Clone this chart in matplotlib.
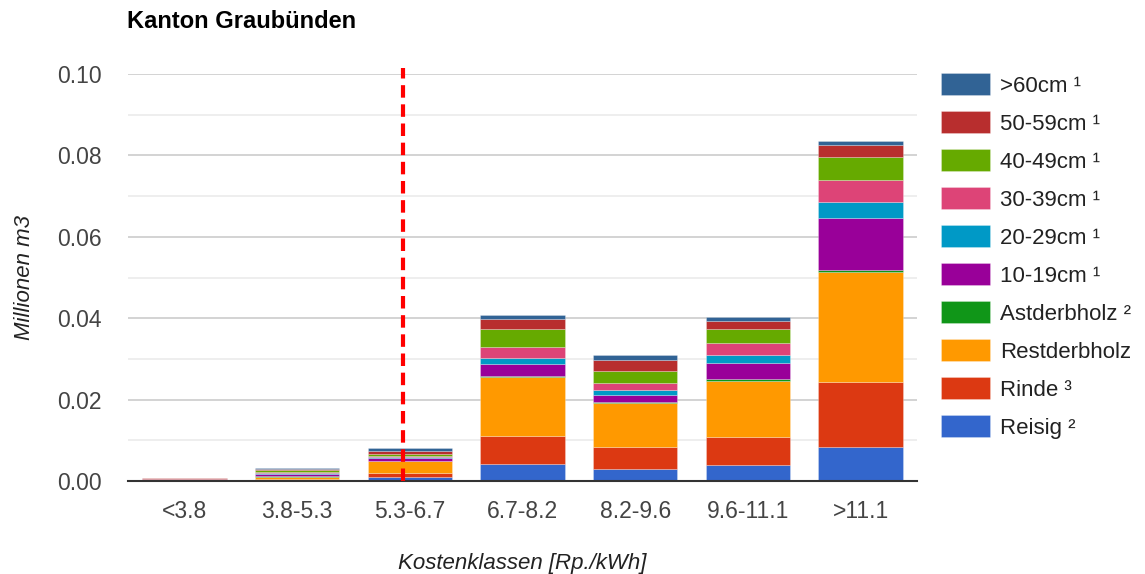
import matplotlib
matplotlib.use("Agg")
from matplotlib import pyplot as plt
import numpy as np

plt.rcParams['font.family'] = ['Liberation Sans', 'DejaVu Sans']

kategorien = ["<3.8", "3.8-5.3", "5.3-6.7", "6.7-8.2", "8.2-9.6", "9.6-11.1", ">11.1"]

# Millionen m3, von unten nach oben gestapelt
reisig = [0.00005, 0.0002, 0.0009, 0.0041, 0.0029, 0.0040, 0.0084]
rinde = [0.00006, 0.0002, 0.0011, 0.0069, 0.0055, 0.0069, 0.0159]
restderbholz = [0.00012, 0.0007, 0.0028, 0.0146, 0.0108, 0.0137, 0.0271]
astderbholz = [0.00002, 0.0001, 0.0001, 0.0003, 0.0003, 0.0004, 0.0005]
cm10_19 = [0.00012, 0.0005, 0.0007, 0.0028, 0.0016, 0.0040, 0.0126]
cm20_29 = [0.00003, 0.0002, 0.0002, 0.0014, 0.0012, 0.0019, 0.0040]
cm30_39 = [0.00006, 0.0004, 0.0003, 0.0029, 0.0017, 0.0030, 0.0054]
cm40_49 = [0.0001, 0.0004, 0.0005, 0.0044, 0.0031, 0.0035, 0.0058]
cm50_59 = [0.00008, 0.0003, 0.0008, 0.0025, 0.0026, 0.0019, 0.0029]
cm60 = [0.00006, 0.0003, 0.0006, 0.0008, 0.0012, 0.0009, 0.0010]

# Lage der roten Grenzlinie auf der Kategorien-Achse
grenze = 1.94

serien = [
    ("Reisig ²", reisig, "#3366cc"),
    ("Rinde ³", rinde, "#dc3912"),
    ("Restderbholz", restderbholz, "#ff9900"),
    ("Astderbholz ²", astderbholz, "#109618"),
    ("10-19cm ¹", cm10_19, "#990099"),
    ("20-29cm ¹", cm20_29, "#0099c6"),
    ("30-39cm ¹", cm30_39, "#dd4477"),
    ("40-49cm ¹", cm40_49, "#66aa00"),
    ("50-59cm ¹", cm50_59, "#b82e2e"),
    (">60cm ¹", cm60, "#316395"),
]

fig = plt.figure(figsize=(11.45, 5.74), dpi=100)
ax = fig.add_axes([128 / 1145, 1 - 481 / 574, (917 - 128) / 1145, (481 - 74) / 574])

x = np.arange(len(kategorien))
bottom = np.zeros(len(kategorien))
handles = []
for name, werte, farbe in serien:
    b = ax.bar(x, werte, width=0.75, bottom=bottom, color=farbe,
               edgecolor=(1, 1, 1, 0.4), linewidth=0.45, label=name, zorder=3)
    handles.append(b)
    bottom += np.array(werte)

ax.set_xlim(-0.5, len(kategorien) - 0.5)
ax.set_ylim(0, 0.10)
ax.set_yticks(np.arange(0, 0.101, 0.02))
ax.set_yticks(np.arange(0.01, 0.1, 0.02), minor=True)
ax.yaxis.set_major_formatter(matplotlib.ticker.FormatStrFormatter("%.2f"))
ax.grid(axis="y", which="major", color="#cccccc", linewidth=1.2, zorder=0)
ax.grid(axis="y", which="minor", color="#ebebeb", linewidth=1.2, zorder=0)
ax.set_xticks(x)
ax.set_xticklabels(kategorien)
ax.tick_params(axis="both", which="both", length=0, labelsize=16.5, colors="#444444")
ax.tick_params(axis="y", pad=19)
ax.tick_params(axis="x", pad=14)
for s in ["top", "right", "left"]:
    ax.spines[s].set_visible(False)
ax.spines["bottom"].set_color("#333333")
ax.spines["bottom"].set_linewidth(1.5)
ax.spines["bottom"].set_zorder(5)

# Referenzlinie
ax.plot([grenze, grenze], [0, 0.1015], color="#ff0000", linewidth=3, linestyle=(0, (3, 1.6)),
        zorder=6, clip_on=False)

ax.set_ylabel("Millionen m3", fontsize=16, fontstyle="italic", color="#222222", labelpad=16)
ax.set_xlabel("Kostenklassen [Rp./kWh]", fontsize=16, fontstyle="italic", color="#222222", labelpad=21)

fig.text(127 / 1145, 1 - 22 / 574, "Kanton Graubünden", fontsize=17, fontweight="bold",
         va="center", ha="left", color="#000000")

fig.legend(handles[::-1], [s[0] for s in serien][::-1], loc="upper left",
           bbox_to_anchor=(941 / 1145, 1 - 73 / 574), frameon=False, fontsize=16,
           borderpad=0, borderaxespad=0, handlelength=2.2, handleheight=1.15,
           handletextpad=0.45, labelspacing=0.65, labelcolor="#222222")

fig.savefig("out.png", dpi=100)
